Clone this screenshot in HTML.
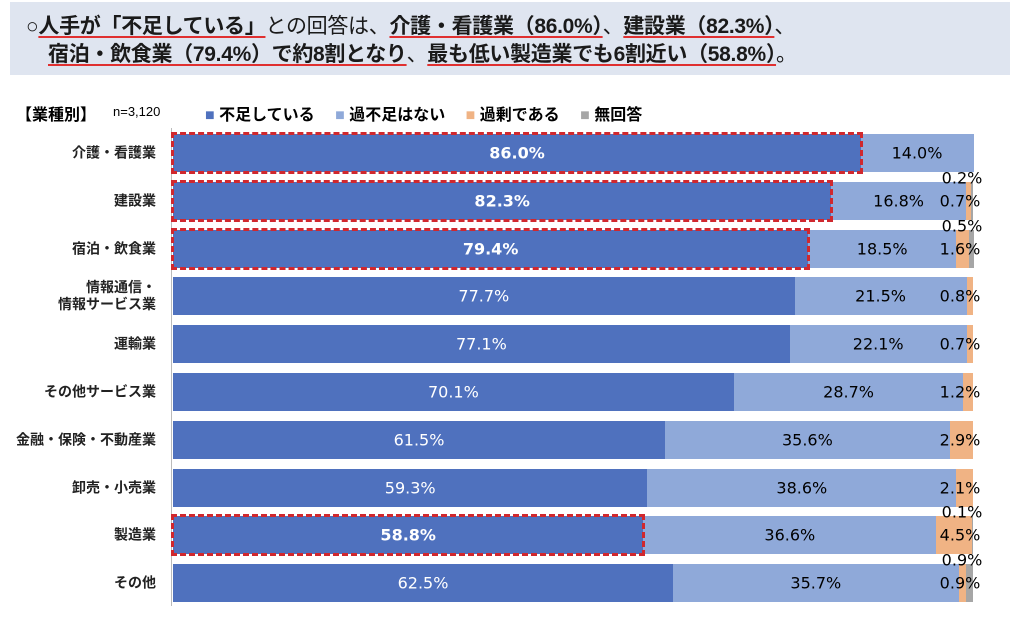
<!DOCTYPE html><html><head><meta charset="utf-8"><style>
body{margin:0;width:1024px;height:624px;background:#fff;position:relative;overflow:hidden;font-family:"Liberation Sans","Noto Sans CJK JP",sans-serif}
.hd{position:absolute;left:10px;top:2px;width:1000px;height:73px;background:#dfe5f0}
.t{position:absolute;font-size:21px;color:#1a1a1a;white-space:nowrap;font-weight:bold;letter-spacing:-0.3px}
.u{text-decoration:underline;text-decoration-color:#e03030;text-decoration-thickness:2px;text-underline-offset:3px}
.n{font-weight:normal}
.a{position:absolute;white-space:nowrap}
.bar{position:absolute;height:38px}
.lab{position:absolute;font-size:16px;white-space:nowrap;transform:translate(-50%,-50%);font-family:"DejaVu Sans",sans-serif}
.cat{position:absolute;right:868px;font-size:14px;font-weight:bold;text-align:right;transform:translateY(-50%);line-height:17px;color:#222}
.box{position:absolute;border:3px dashed #d0282e;box-sizing:border-box}
</style></head><body>
<div class="hd"></div>
<div class="t" style="left:26px;top:10px"><span class="n">○</span><span class="u">人手が「不足している」</span><span class="n">との回答は、</span><span class="u">介護・看護業（86.0%）</span><span class="n">、</span><span class="u">建設業（82.3%）</span><span class="n">、</span></div>
<div class="t" style="left:48px;top:38px"><span class="u">宿泊・飲食業（79.4%）で約8割となり</span><span class="n">、</span><span class="u">最も低い製造業でも6割近い（58.8%）</span><span class="n">。</span></div>
<div class="a" style="left:16px;top:101px;font-size:16px;font-weight:bold">【業種別】</div>
<div class="a" style="left:113px;top:104px;font-size:13px">n=3,120</div>
<div class="a" style="left:205px;top:101px;font-size:16px;font-weight:bold"><span style="color:#4f71be">■</span> 不足している　 <span style="color:#8fa9d9">■</span> 過不足はない　 <span style="color:#f0b384">■</span> 過剰である　 <span style="color:#a6a6a6">■</span> 無回答</div>
<div style="position:absolute;left:171px;top:128px;width:1px;height:478px;background:#bbb"></div>
<div id="c"></div>
<script>
var d=[["介護・看護業",86.0,14.0,0,0,1],["建設業",82.3,16.8,0.7,0.2,1],["宿泊・飲食業",79.4,18.5,1.6,0.5,1],["情報通信・<br>情報サービス業",77.7,21.5,0.8,0,0],["運輸業",77.1,22.1,0.7,0,0],["その他サービス業",70.1,28.7,1.2,0,0],["金融・保険・不動産業",61.5,35.6,2.9,0,0],["卸売・小売業",59.3,38.6,2.1,0,0],["製造業",58.8,36.6,4.5,0.1,1],["その他",62.5,35.7,0.9,0.9,0]];
var h="",L=173,W=800,cols=["#4f71be","#8fa9d9","#f0b384","#a6a6a6"];
d.forEach(function(r,i){var cy=153+i*47.8,top=cy-19,x=L;
h+='<div class="cat" style="top:'+cy+'px">'+r[0]+'</div>';
for(var k=0;k<4;k++){var w=r[k+1]*W/100;if(w>0)h+='<div class="bar" style="left:'+x+'px;top:'+top+'px;width:'+(w+0.5)+'px;background:'+cols[k]+'"></div>';x+=w;}
var w1=r[1]*W/100;
h+='<div class="lab" style="left:'+(L+w1/2)+'px;top:'+cy+'px;color:#fff;'+(r[5]?'font-weight:bold;':'')+'">'+r[1].toFixed(1)+'%</div>';
h+='<div class="lab" style="left:'+(L+w1+r[2]*W/200)+'px;top:'+cy+'px">'+r[2].toFixed(1)+'%</div>';
if(r[3]>0)h+='<div class="lab" style="left:960px;top:'+cy+'px">'+r[3].toFixed(1)+'%</div>';
if(r[4]>0)h+='<div class="lab" style="left:962px;top:'+(cy-23)+'px">'+r[4].toFixed(1)+'%</div>';
if(r[5])h+='<div class="box" style="left:'+(L-2)+'px;top:'+(top-2)+'px;width:'+(w1+4)+'px;height:42px"></div>';
});
document.getElementById("c").innerHTML=h;
</script>
</body></html>
